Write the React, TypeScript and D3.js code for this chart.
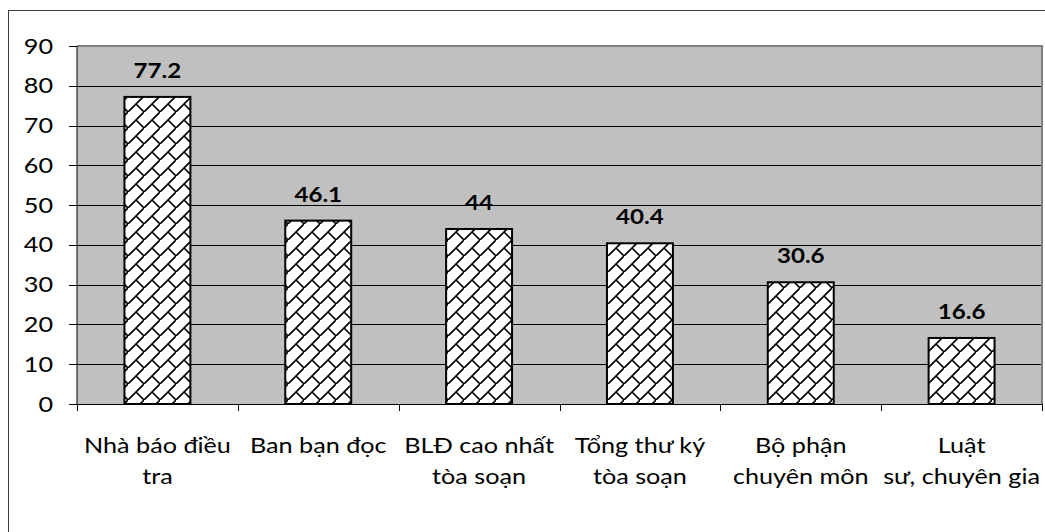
import React from "react";
import * as d3 from "d3";

const categories: string[][] = [
  ["Nhà báo điều", "tra"],
  ["Ban bạn đọc"],
  ["BLĐ cao nhất", "tòa soạn"],
  ["Tổng thư ký", "tòa soạn"],
  ["Bộ phận", "chuyên môn"],
  ["Luật", "sư, chuyên gia"],
];
const values: number[] = [77.2, 46.1, 44, 40.4, 30.6, 16.6];
const valueLabels: string[] = ["77.2", "46.1", "44", "40.4", "30.6", "16.6"];
const yTicks: number[] = [0, 10, 20, 30, 40, 50, 60, 70, 80, 90];

const W = 1045;
const H = 532;
const left = 77;
const right = 1042;
const top = 46;
const bottom = 404;
const FONT = "Lato, 'Open Sans', sans-serif";
const SX = 1.2;

export default function App() {
  const keys = categories.map((c) => c.join(" "));
  const x = d3
    .scaleBand<string>()
    .domain(keys)
    .range([left, right])
    .paddingInner(0.59)
    .paddingOuter(0.295);
  const y = d3.scaleLinear().domain([0, 90]).range([bottom, top]);
  const step = x.step();
  const boundaries = d3.range(keys.length + 1).map((i) => left + i * step);

  return (
    <svg
      width={W}
      height={H}
      style={{ position: "absolute", left: 0, top: 0, background: "#fff" }}
    >
      <defs>
        <pattern
          id="brick"
          patternUnits="userSpaceOnUse"
          width={16}
          height={16}
        >
          <rect width={16} height={16} fill="#fff" />
          <path
            d="M-2,18 L18,-2 M8,8 L17,17"
            stroke="#000"
            strokeWidth={1.6}
            fill="none"
          />
        </pattern>
      </defs>
      <rect
        x={8.5}
        y={10.5}
        width={1100}
        height={600}
        fill="#fff"
        stroke="#3a3a3a"
        strokeWidth={1}
      />
      <rect
        x={left}
        y={top}
        width={right - left}
        height={bottom - top}
        fill="#c0c0c0"
      />
      {yTicks
        .filter((t) => t > 0 && t < 90)
        .map((t) => (
          <line
            key={"g" + t}
            x1={left}
            x2={right}
            y1={Math.round(y(t)) + 0.5}
            y2={Math.round(y(t)) + 0.5}
            stroke="#000"
            strokeWidth={1}
          />
        ))}
      <path
        d={`M${left},${top} L${right},${top} L${right},${bottom}`}
        fill="none"
        stroke="#808080"
        strokeWidth={2}
      />
      {values.map((v, i) => (
        <rect
          key={"b" + i}
          x={x(keys[i])!}
          y={y(v)}
          width={x.bandwidth()}
          height={bottom - y(v)}
          fill="url(#brick)"
          stroke="#000"
          strokeWidth={2}
        />
      ))}
      <line x1={left} x2={left} y1={top} y2={bottom} stroke="#000" strokeWidth={1} />
      <line x1={69} x2={right} y1={bottom + 0.5} y2={bottom + 0.5} stroke="#000" strokeWidth={1} />
      {yTicks.map((t) => (
        <g key={"t" + t}>
          <line
            x1={69}
            x2={left}
            y1={Math.round(y(t)) + 0.5}
            y2={Math.round(y(t)) + 0.5}
            stroke="#000"
          />
          <text
            transform={`translate(53,${y(t)}) scale(${SX},1)`}
            dy="0.36em"
            textAnchor="end"
            fontFamily={FONT}
            fontSize={21}
            fill="#000"
          >
            {t}
          </text>
        </g>
      ))}
      {boundaries.map((bx, i) => (
        <line
          key={"xt" + i}
          x1={Math.round(bx) + 0.5}
          x2={Math.round(bx) + 0.5}
          y1={bottom}
          y2={bottom + 7}
          stroke="#000"
        />
      ))}
      {values.map((v, i) => (
        <text
          key={"l" + i}
          transform={`translate(${x(keys[i])! + x.bandwidth() / 2},${y(v) - 19}) scale(1.15,1)`}
          textAnchor="middle"
          fontFamily={FONT}
          fontWeight="bold"
          fontSize={21}
          fill="#000"
        >
          {valueLabels[i]}
        </text>
      ))}
      {categories.map((lines, i) => (
        <g
          key={"c" + i}
          transform={`translate(${x(keys[i])! + x.bandwidth() / 2},0) scale(${SX},1)`}
        >
          <text textAnchor="middle" fontFamily={FONT} fontSize={21} fill="#000">
            {lines.map((ln, j) => (
              <tspan key={j} x={0} y={453 + j * 31}>
                {ln}
              </tspan>
            ))}
          </text>
        </g>
      ))}
    </svg>
  );
}
